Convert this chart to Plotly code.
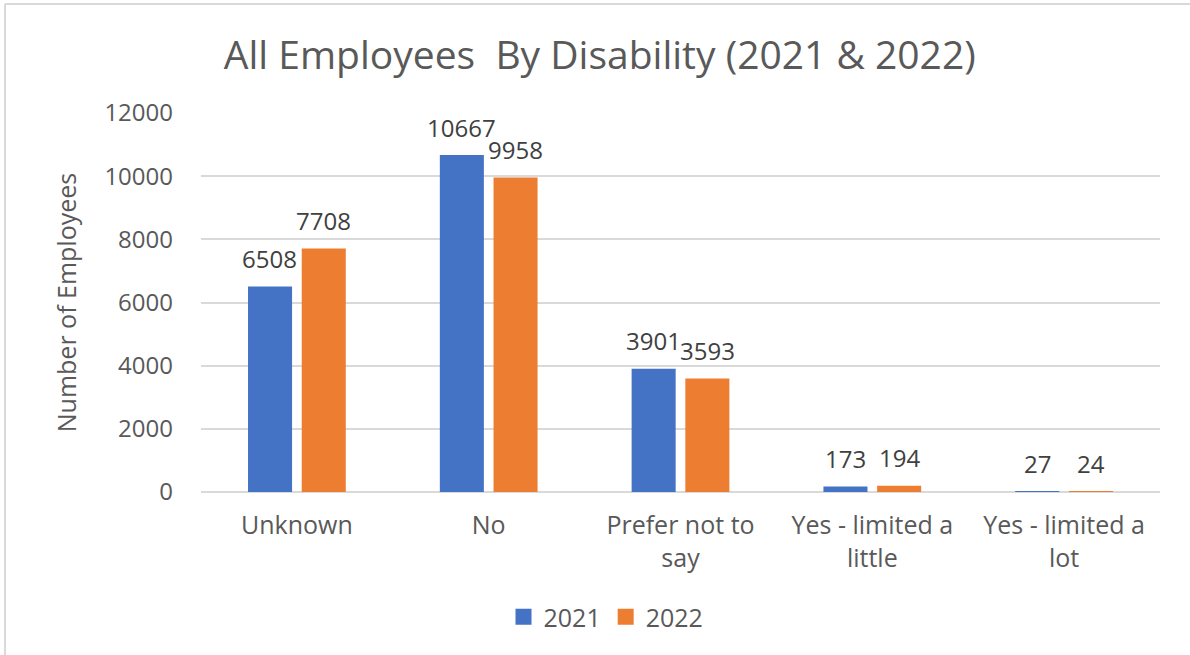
import plotly.graph_objects as go

categories = ["Unknown", "No", "Prefer not to<br>say", "Yes - limited a<br>little", "Yes - limited a<br>lot"]
values_2021 = [6508, 10667, 3901, 173, 27]
values_2022 = [7708, 9958, 3593, 194, 24]
series_names = ["2021", "2022"]
colors = ["#4472C4", "#ED7D31"]
y_ticks = [0, 2000, 4000, 6000, 8000, 10000, 12000]

W, H = 1190, 655
L, R, T, B = 201, 30, 113, 163
FONT = "Open Sans"
TXT = "#595959"

fig = go.Figure()
for name, vals, col in zip(series_names, [values_2021, values_2022], colors):
    fig.add_trace(go.Bar(name=name, x=categories, y=vals, marker_color=col,
                         marker_line_width=0, showlegend=False))
# legend entries (square swatches)
for name, col in zip(series_names, colors):
    fig.add_trace(go.Scatter(name=name, x=[None], y=[None], mode="markers",
                             marker=dict(symbol="square", size=16, color=col),
                             showlegend=True))

# data labels above bars
for vals, shift in zip([values_2021, values_2022], [-27, 27]):
    for c, v in zip(categories, vals):
        fig.add_annotation(x=c, y=v, text=str(v), showarrow=False, xshift=shift,
                           yshift=28, yanchor="middle",
                           font=dict(family=FONT, size=24, color="#404040"))

pw = W - L - R
ph = H - T - B
fig.add_shape(type="line", xref="paper", yref="paper",
              x0=(5 - L) / pw, x1=(W + 10 - L) / pw,
              y0=1 + (T - 4) / ph, y1=1 + (T - 4) / ph,
              line=dict(color="#D9D9D9", width=2))
fig.add_shape(type="line", xref="paper", yref="paper",
              x0=(5 - L) / pw, x1=(5 - L) / pw,
              y0=1 + (T - 4) / ph, y1=-(B + 10) / ph,
              line=dict(color="#D9D9D9", width=2))

fig.update_layout(
    width=W, height=H,
    margin=dict(l=L, r=R, t=T, b=B),
    paper_bgcolor="white", plot_bgcolor="white",
    barmode="group", bargap=0.44, bargroupgap=0.18,
    title=dict(text="All Employees  By Disability (2021 & 2022)", x=0.504, xanchor="center",
               y=1 - 55 / H, yanchor="middle",
               font=dict(family=FONT, size=39, color=TXT)),
    font=dict(family=FONT, color=TXT),
    legend=dict(orientation="h", x=606 / W, xanchor="center", xref="container",
                y=1 - 617 / H, yanchor="middle", yref="container",
                font=dict(family=FONT, size=25, color=TXT),
                itemwidth=30, traceorder="normal"),
    yaxis=dict(range=[0, 12000], tickvals=y_ticks, tickformat="d", showgrid=True,
               gridcolor="#D9D9D9", gridwidth=1.5, zeroline=True,
               zerolinecolor="#D9D9D9", zerolinewidth=1.5,
               tickfont=dict(family=FONT, size=24, color=TXT),
               ticklabelstandoff=27, showline=False,
               title=dict(text="Number of Employees", standoff=20,
                          font=dict(family=FONT, size=25, color=TXT))),
    xaxis=dict(tickfont=dict(family=FONT, size=25, color=TXT),
               showline=False, ticks="", ticklabelstandoff=16),
)

fig.write_html("out.html", config={"displayModeBar": False},
               post_script="document.body.style.margin='0';")
